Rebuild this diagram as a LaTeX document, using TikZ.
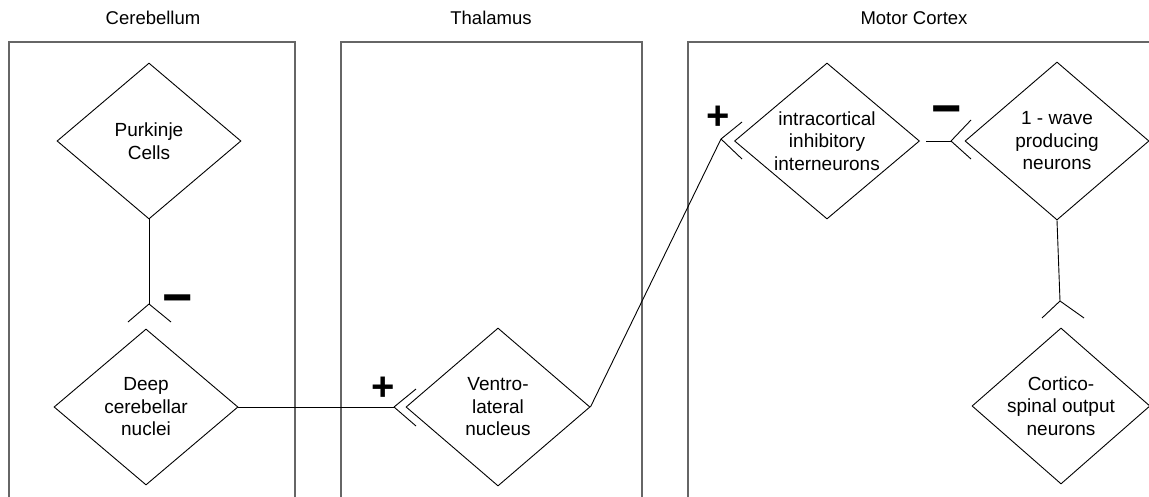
\documentclass[tikz,border=0pt]{standalone}
\usepackage{fontspec}
\setmainfont{Liberation Sans}
\usetikzlibrary{shapes.geometric}
\begin{document}
\begin{tikzpicture}[x=1pt,y=-1pt,
  region/.style={draw=black!60, line width=1.2pt},
  cell/.style={diamond, draw, line width=0.9pt, inner sep=0pt, align=center,
    minimum width=184pt, minimum height=156pt, font=\fontsize{19}{22.5}\selectfont},
  title/.style={font=\fontsize{18.5}{21}\selectfont},
  link/.style={line width=0.9pt},
  sign/.style={font=\fontsize{40}{40}\selectfont\bfseries, inner sep=0pt}]
\useasboundingbox (0,0) rectangle (1149,496);
% regions
\draw[region] (9,500) -- (9,42) -- (295,42) -- (295,500);
\draw[region] (341,500) -- (341,42) -- (642,42) -- (642,500);
\draw[region] (688,500) -- (688,42) -- (1152,42);
\node[title] (tcb) at (153,18) {Cerebellum};
\node[title] (tth) at (491,18) {Thalamus};
\node[title] (tmc) at (914,18) {Motor Cortex};
% cells
\node[cell] (purk) at (149,141) {Purkinje\\Cells};
\node[cell] (deep) at (146,407) {Deep\\cerebellar\\nuclei};
\node[cell, minimum height=158pt] (vl) at (498,407) {Ventro-\\lateral\\nucleus};
\node[cell, minimum width=185pt, inner sep=-10pt] (ici) at (827,141) {intracortical\\inhibitory\\interneurons};
\node[cell, minimum height=158pt] (iw) at (1057,141) {1 - wave\\producing\\neurons};
\node[cell, minimum width=178pt, inner sep=-4pt] (cs) at (1061,406) {Cortico-\\spinal output\\neurons};
% synapse points
\coordinate (s1) at (149,304);
\coordinate (s2) at (394,407);
\coordinate (s3) at (721,139);
\coordinate (s4) at (951,141);
\coordinate (s5) at (1060,301);
\coordinate (g4) at (926,141);
% connectors
\draw[link] (purk.south) -- (s1);
\draw[link] (s1) -- ++(-21,18) (s1) -- ++(22,18);
\draw[link] (deep.east) -- (s2);
\draw[link] (s2) -- ++(22,-18) (s2) -- ++(22,19);
\draw[link] (vl.east) -- (s3);
\draw[link] (s3) -- ++(21,-17) (s3) -- ++(21,20);
\draw[link] (g4) -- (s4);
\draw[link] (s4) -- ++(20,-21) (s4) -- ++(20,18);
\draw[link] (iw.south) -- (s5);
\draw[link] (s5) -- ++(-18,17) (s5) -- ++(24,17);
% signs
\node[sign] (m1) at (178,306) {\scalebox{1.3}[1.4]{−}};
\node[sign] (p1) at (383,389) {+};
\node[sign] (p2) at (718,118) {+};
\node[sign] (m2) at (947,117) {\scalebox{1.3}[1.4]{−}};
\end{tikzpicture}
\end{document}
